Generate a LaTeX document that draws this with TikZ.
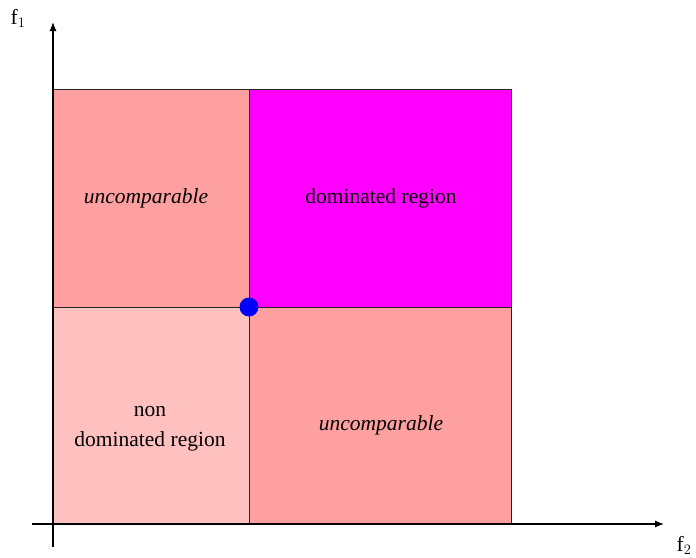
\documentclass[tikz,border=0pt]{standalone}
\usepackage{fontspec}
\setmainfont{Liberation Serif}
\usetikzlibrary{arrows.meta}
\definecolor{uncomp}{RGB}{255,160,160}
\definecolor{nondom}{RGB}{255,192,192}
\definecolor{dom}{RGB}{255,0,255}
\begin{document}
\begin{tikzpicture}[x=1pt,y=-1pt,
  region/.style={draw=black!85,line width=0.9pt},
  axis/.style={line width=1.2pt,-{Latex[length=9pt,width=7pt]}},
  lbl/.style={font=\fontsize{21.5}{30}\selectfont,align=center,inner sep=0pt}]
\useasboundingbox (0,0) rectangle (696,557);
\fill[uncomp] (53,89) rectangle (249,307);
\fill[dom] (249,89) rectangle (511,307);
\fill[nondom] (53,307) rectangle (249,524);
\fill[uncomp] (249,307) rectangle (511,524);
\draw[region] (53,89) rectangle (511,524);
\draw[region] (249,89) -- (249,524);
\draw[region] (53,307) -- (511,307);
\coordinate (yb) at (53,547);
\coordinate (yt) at (53,22);
\coordinate (xl) at (32,524);
\coordinate (xr) at (664,524);
\draw[axis] (yb) -- (yt);
\draw[axis] (xl) -- (xr);
\node[lbl] (f1) at (18,18) {f$_1$};
\node[lbl] (f2) at (684,545) {f$_2$};
\node[lbl,font=\fontsize{21.5}{30}\selectfont\itshape] (u1) at (146,198) {uncomparable};
\node[lbl] (d) at (381,198) {dominated region};
\node[lbl] (n) at (150,429) {non\\dominated region};
\node[lbl,font=\fontsize{21.5}{30}\selectfont\itshape] (u2) at (381,425) {uncomparable};
\fill[blue] (249,307) circle (9.5);
\node[inner sep=0pt,minimum size=19pt] (pt) at (249,307) {};
\end{tikzpicture}
\end{document}
